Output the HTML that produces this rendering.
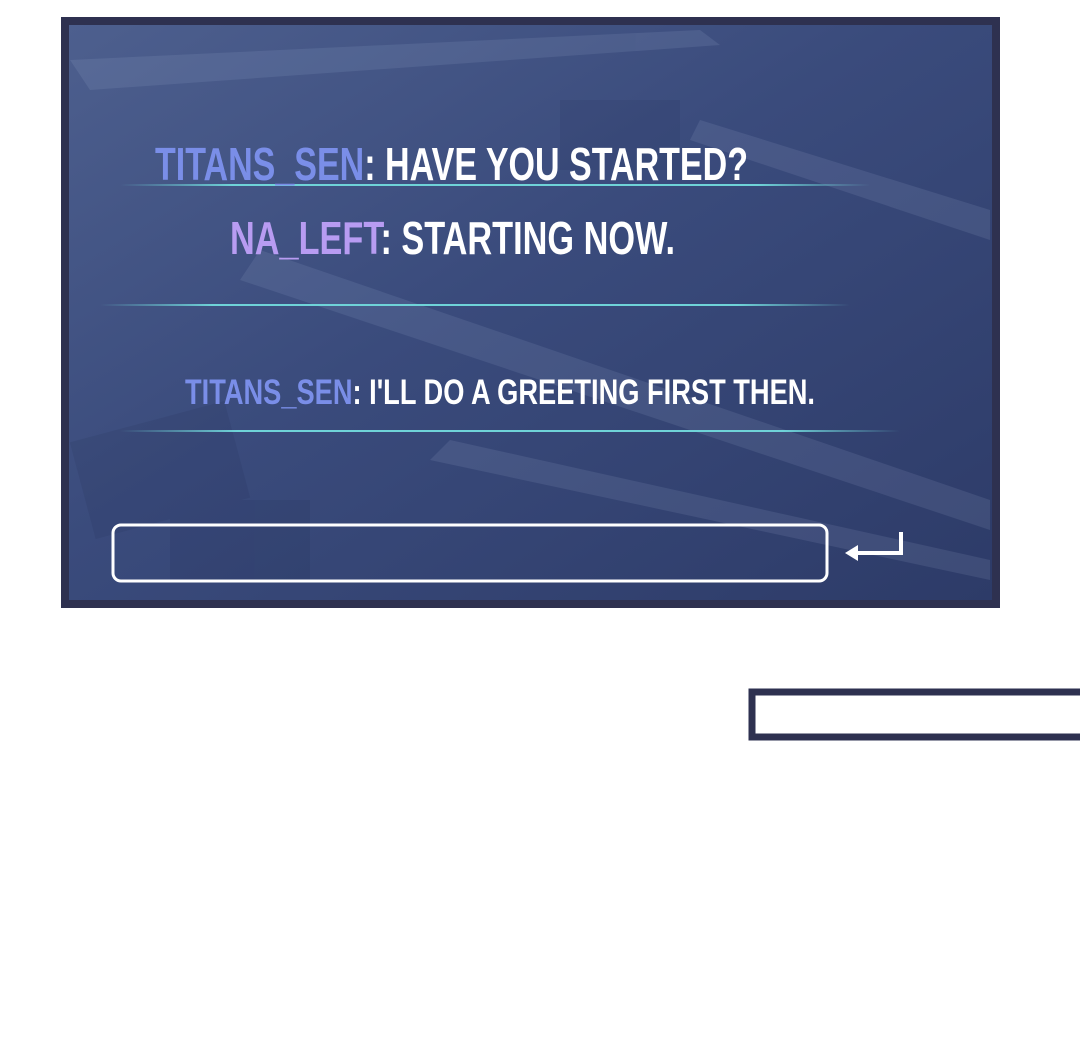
<!DOCTYPE html>
<html><head><meta charset="utf-8"><style>
html,body{margin:0;padding:0;background:#fff;width:1080px;height:1048px;overflow:hidden}
</style></head><body>
<svg width="1080" height="1048" viewBox="0 0 1080 1048" xmlns="http://www.w3.org/2000/svg">
<defs>
<linearGradient id="bg" x1="0" y1="0" x2="1" y2="1">
<stop offset="0" stop-color="#4d5f8e"/>
<stop offset="0.45" stop-color="#3a4b7c"/>
<stop offset="1" stop-color="#2d3b68"/>
</linearGradient>
<linearGradient id="ln" x1="0" x2="1">
<stop offset="0" stop-color="#6fd3d8" stop-opacity="0"/>
<stop offset="0.15" stop-color="#6fd3d8"/>
<stop offset="0.85" stop-color="#6fd3d8"/>
<stop offset="1" stop-color="#6fd3d8" stop-opacity="0"/>
</linearGradient>
</defs>
<rect x="61" y="17" width="939" height="591" fill="#2e3150"/>
<rect x="69" y="25" width="923" height="575" fill="url(#bg)"/>
<g opacity="0.1" fill="#c9d6f5">
<polygon points="70,60 700,30 720,45 90,90"/>
<polygon points="260,250 990,500 990,530 240,280"/>
<polygon points="450,440 990,560 990,580 430,460"/>
<polygon points="700,120 990,210 990,240 690,140"/>
</g>
<g opacity="0.08" fill="#0d1633">
<rect x="80" y="420" width="160" height="100" transform="rotate(-15 160 470)"/>
<rect x="560" y="100" width="120" height="70"/>
<rect x="170" y="500" width="140" height="80"/>
</g>
<rect x="120" y="184" width="750" height="2" fill="url(#ln)"/>
<rect x="100" y="304" width="750" height="2" fill="url(#ln)"/>
<rect x="120" y="430" width="780" height="2" fill="url(#ln)"/>
<g font-family="Liberation Sans, sans-serif" font-weight="bold">
<text x="155" y="180" font-size="46" textLength="593" lengthAdjust="spacingAndGlyphs"><tspan fill="#7a8ee8">TITANS_SEN</tspan><tspan fill="#fff">: HAVE YOU STARTED?</tspan></text>
<text x="230" y="254" font-size="46" textLength="445" lengthAdjust="spacingAndGlyphs"><tspan fill="#b89cf2">NA_LEFT</tspan><tspan fill="#fff">: STARTING NOW.</tspan></text>
<text x="185" y="404" font-size="35" textLength="630" lengthAdjust="spacingAndGlyphs"><tspan fill="#7a8ee8">TITANS_SEN</tspan><tspan fill="#fff">: I'LL DO A GREETING FIRST THEN.</tspan></text>
</g>
<rect x="113" y="525" width="714" height="56" rx="8" fill="none" stroke="#fff" stroke-width="3"/>
<path d="M901,532 V553 H852" fill="none" stroke="#fff" stroke-width="4"/>
<polygon points="845,553 858,545 858,561" fill="#fff"/>
<rect x="752" y="692" width="340" height="45" fill="#fff" stroke="#2e3150" stroke-width="7"/>
</svg>
</body></html>
